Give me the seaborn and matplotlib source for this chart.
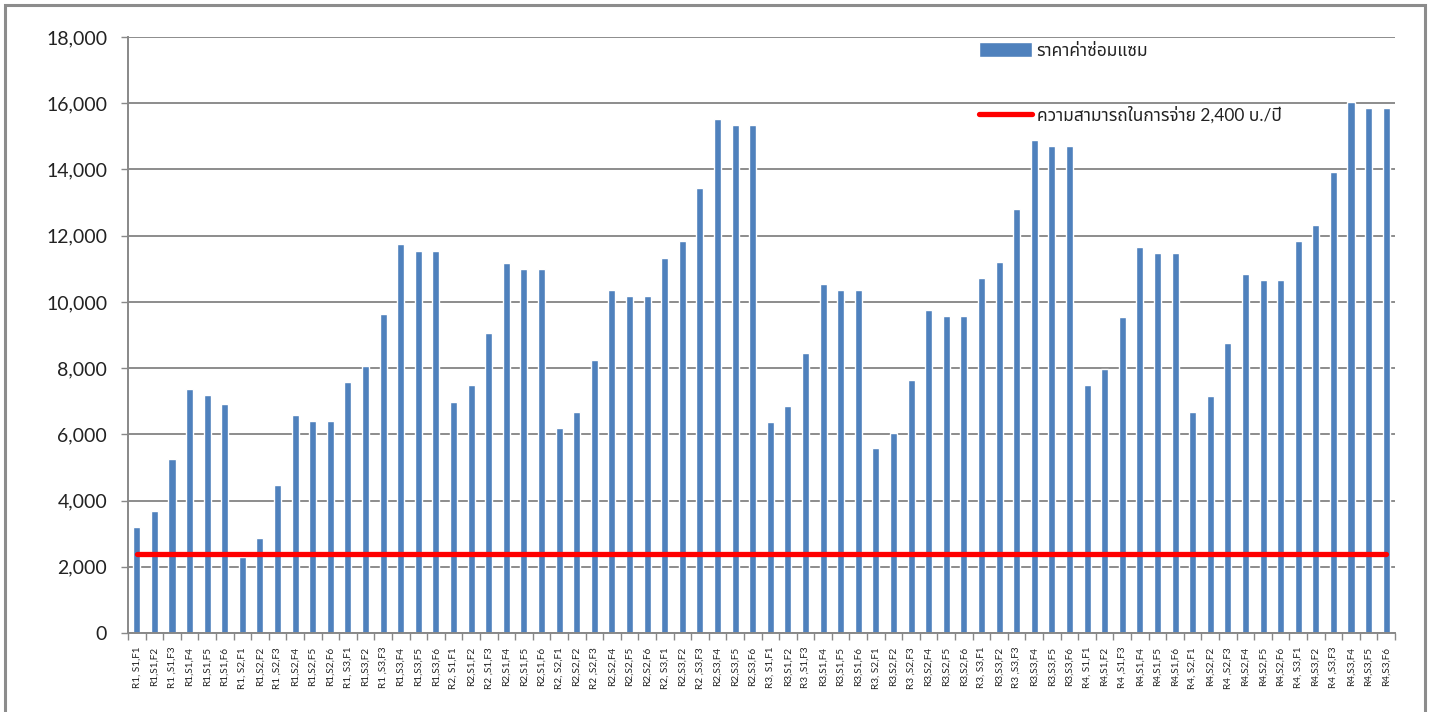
import numpy as np
import pandas as pd
import matplotlib
matplotlib.use("Agg")
import matplotlib.pyplot as plt
from matplotlib import font_manager, ft2font
from matplotlib.patches import Rectangle
import seaborn as sns

# Repair cost for each scenario (baht)
labels = [
    "R1, S1,F1", "R1,S1,F2", "R1 ,S1,F3", "R1,S1,F4", "R1,S1,F5", "R1,S1,F6",
    "R1, S2,F1", "R1,S2,F2", "R1 ,S2,F3", "R1,S2,F4", "R1,S2,F5", "R1,S2,F6",
    "R1, S3,F1", "R1,S3,F2", "R1 ,S3,F3", "R1,S3,F4", "R1,S3,F5", "R1,S3,F6",
    "R2, S1,F1", "R2,S1,F2", "R2 ,S1,F3", "R2,S1,F4", "R2,S1,F5", "R2,S1,F6",
    "R2, S2,F1", "R2,S2,F2", "R2 ,S2,F3", "R2,S2,F4", "R2,S2,F5", "R2,S2,F6",
    "R2, S3,F1", "R2,S3,F2", "R2 ,S3,F3", "R2,S3,F4", "R2,S3,F5", "R2,S3,F6",
    "R3, S1,F1", "R3,S1,F2", "R3 ,S1,F3", "R3,S1,F4", "R3,S1,F5", "R3,S1,F6",
    "R3, S2,F1", "R3,S2,F2", "R3 ,S2,F3", "R3,S2,F4", "R3,S2,F5", "R3,S2,F6",
    "R3, S3,F1", "R3,S3,F2", "R3 ,S3,F3", "R3,S3,F4", "R3,S3,F5", "R3,S3,F6",
    "R4, S1,F1", "R4,S1,F2", "R4 ,S1,F3", "R4,S1,F4", "R4,S1,F5", "R4,S1,F6",
    "R4, S2,F1", "R4,S2,F2", "R4 ,S2,F3", "R4,S2,F4", "R4,S2,F5", "R4,S2,F6",
    "R4, S3,F1", "R4,S3,F2", "R4 ,S3,F3", "R4,S3,F4", "R4,S3,F5", "R4,S3,F6",
]
r1_costs = [3190, 3680, 5260, 7360, 7190, 6920,
            2300, 2870, 4460, 6580, 6390, 6390,
            7570, 8050, 9640, 11740, 11550, 11550]
r2_costs = [6980, 7490, 9060, 11160, 10980, 10980,
            6190, 6670, 8250, 10360, 10180, 10180,
            11340, 11840, 13430, 15530, 15350, 15350]
r3_costs = [6370, 6860, 8450, 10550, 10360, 10360,
            5590, 6050, 7640, 9740, 9560, 9560,
            10730, 11210, 12800, 14900, 14720, 14720]
r4_costs = [7490, 7980, 9550, 11660, 11480, 11480,
            6680, 7170, 8760, 10850, 10670, 10670,
            11850, 12330, 13920, 16030, 15850, 15850]
afford_per_year = 2400
y_ticks = [0, 2000, 4000, 6000, 8000, 10000, 12000, 14000, 16000, 18000]

cost_label = "ราคาค่าซ่อมแซม"
afford_label = "ความสามารถในการจ่าย 2,400 บ./ปี"

costs = r1_costs + r2_costs + r3_costs + r4_costs
df = pd.DataFrame({"scenario": labels, "cost": costs})


def find_thai_font():
    preferred = ["Noto Sans Thai", "Noto Sans Thai UI", "Noto Looped Thai",
                 "Loma", "Garuda", "Tlwg Typo", "Norasi", "Sarabun"]
    found = {}
    for f in font_manager.fontManager.ttflist:
        try:
            cmap = ft2font.FT2Font(f.fname).get_charmap()
        except Exception:
            continue
        if 0x0E04 in cmap and 0x0E21 in cmap:
            found.setdefault(f.name, f.fname)
    for name in preferred:
        if name in found:
            return name
    return next(iter(found), None)


sns.set_theme(style="white")
thai = find_thai_font()
families = (["Lato", thai, "DejaVu Sans"] if thai else ["Lato", "DejaVu Sans"])
plt.rcParams["font.family"] = families

fig = plt.figure(figsize=(14.34, 7.12), dpi=100)
ax = fig.add_axes([128 / 1434, 1 - 633 / 712, (1395 - 128) / 1434, (633 - 37) / 712])

sns.barplot(data=df, x="scenario", y="cost", color="#4F81BD", saturation=1,
            width=0.4, ax=ax, label=cost_label, zorder=2)
sns.lineplot(x=np.arange(len(labels)), y=[afford_per_year] * len(labels),
             color="#FF0000", linewidth=3.8, ax=ax, label=afford_label, zorder=3)

ax.set_xlim(-0.5, len(labels) - 0.5)
ax.set_ylim(0, 18000)
ax.set_yticks(y_ticks)
ax.set_yticklabels([f"{v:,}" for v in y_ticks], fontsize=14, color="#222222")
ax.set_xticks(np.arange(len(labels)))
ax.set_xticklabels(labels, rotation=90, fontsize=7.2, color="#222222")
ax.set_xticks(np.arange(len(labels) + 1) - 0.5, minor=True)
ax.tick_params(axis="x", which="major", length=0, pad=10)
ax.tick_params(axis="x", which="minor", length=5, width=1, color="#888888",
               direction="out", bottom=True)
ax.tick_params(axis="y", length=5, width=1, color="#888888", direction="out",
               left=True, pad=10)
ax.set_xlabel("")
ax.set_ylabel("")

ax.grid(axis="y", color="#8c8c8c", linewidth=1.4, zorder=0)
ax.set_axisbelow(True)
for side in ["top", "right"]:
    ax.spines[side].set_visible(False)
for side in ["left", "bottom"]:
    ax.spines[side].set_color("#888888")
    ax.spines[side].set_linewidth(1.4)

handles, names = ax.get_legend_handles_labels()
order = [names.index(cost_label), names.index(afford_label)]
leg = ax.legend([handles[i] for i in order], [names[i] for i in order],
                loc="upper left", bbox_to_anchor=(0.672, 0.991), frameon=False,
                fontsize=12.5, labelspacing=2.75, handlelength=3.0,
                handleheight=0.9, handletextpad=0.3, borderpad=0,
                borderaxespad=0)
for t in leg.get_texts():
    t.set_color("#222222")

fig.patches.append(Rectangle((5 / 1434, -0.05), (1425 - 5) / 1434, 1.05 - 5 / 712,
                             transform=fig.transFigure, fill=False,
                             edgecolor="#8c8c8c", linewidth=2.2))

fig.savefig("out.png", dpi=100)
